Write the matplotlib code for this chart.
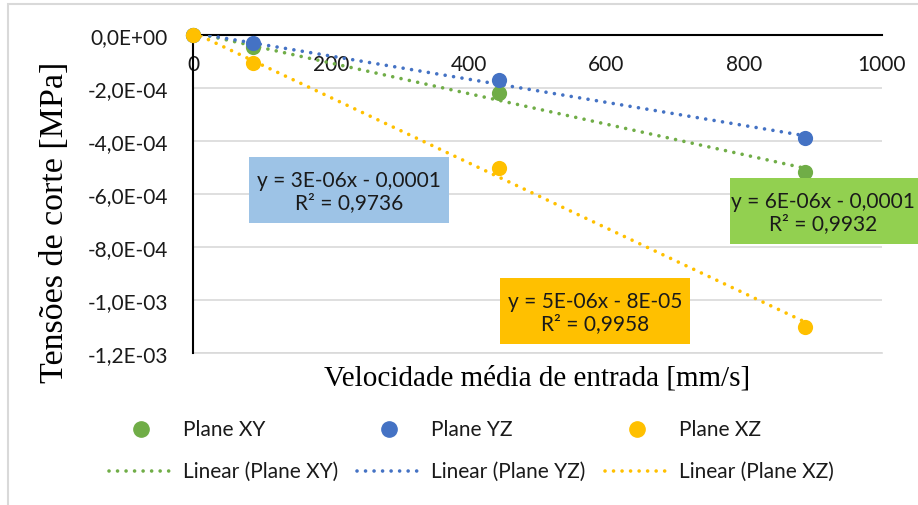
import numpy as np
import matplotlib
matplotlib.use("Agg")
import matplotlib.pyplot as plt
from matplotlib.patches import Rectangle
from matplotlib.lines import Line2D

# Measured data (mean inlet velocity [mm/s] vs shear stress [MPa])
vel_xy = [0, 87, 444, 888]
tau_xy = [0.0, -0.45e-4, -2.19e-4, -5.16e-4]
vel_yz = [0, 87, 444, 888]
tau_yz = [0.0, -0.30e-4, -1.70e-4, -3.88e-4]
vel_xz = [0, 87, 444, 888]
tau_xz = [0.0, -1.06e-4, -5.00e-4, -1.10e-3]

series_names = ["Plane XY", "Plane YZ", "Plane XZ"]
series_colors = ["#70AD47", "#4472C4", "#FFC000"]
box_colors = ["#92D050", "#9DC3E6", "#FFC000"]
eq_labels = ["y = 6E-06x - 0,0001\nR² = 0,9932",
             "y = 3E-06x - 0,0001\nR² = 0,9736",
             "y = 5E-06x - 8E-05\nR² = 0,9958"]

y_ticks = [0.0, -2e-4, -4e-4, -6e-4, -8e-4, -1.0e-3, -1.2e-3]
y_tick_labels = ["0,0E+00", "-2,0E-04", "-4,0E-04", "-6,0E-04",
                 "-8,0E-04", "-1,0E-03", "-1,2E-03"]
x_ticks = [0, 200, 400, 600, 800, 1000]

W, H = 918, 506
fig = plt.figure(figsize=(W / 100, H / 100), dpi=100)
fig.patch.set_facecolor("white")

SANS = ["Lato", "DejaVu Sans"]
FS = 15
TXT = "#1a1a1a"


def fx(px):
    return px / W


def fy(py):
    return 1 - py / H


# chart-area border
fig.patches.append(Rectangle((fx(8), fy(520)), 1.2, fy(5) - fy(520),
                             transform=fig.transFigure, fill=False,
                             edgecolor="#D9D9D9", lw=1.5, zorder=0))

ax = fig.add_axes([fx(193), fy(354), fx(882) - fx(193), fy(36) - fy(354)])
ax.set_xlim(0, 1000)
ax.set_ylim(-1.2e-3, 0)

for s in ["top", "right"]:
    ax.spines[s].set_visible(False)
ax.spines["bottom"].set_position(("data", 0))
ax.spines["bottom"].set_color("black")
ax.spines["bottom"].set_linewidth(1.5)
ax.spines["bottom"].set_zorder(2)
ax.spines["left"].set_color("black")
ax.spines["left"].set_linewidth(1.5)

ax.set_yticks(y_ticks)
ax.set_yticklabels(y_tick_labels)
ax.set_xticks(x_ticks)
ax.set_xticklabels([str(v) for v in x_ticks])
ax.tick_params(axis="both", labelsize=FS, labelcolor=TXT,
               labelfontfamily=SANS, length=0)
ax.tick_params(axis="y", pad=18)
ax.tick_params(axis="x", pad=14)

ax.grid(axis="y", color="#D9D9D9", lw=1.2, zorder=0)
ax.set_axisbelow(True)
ax.axhline(-1.2e-3, color="#D9D9D9", lw=1.2, zorder=0, clip_on=False)

xs = [vel_xy, vel_yz, vel_xz]
ys = [tau_xy, tau_yz, tau_xz]
dot_style = dict(linestyle=(0, (0.01, 2.35)), dash_capstyle="round", lw=2.6)

for x, y, c in zip(xs, ys, series_colors):
    x = np.asarray(x, float)
    y = np.asarray(y, float)
    k, b = np.polyfit(x, y, 1)
    xf = np.array([x.min(), x.max()])
    ax.plot(xf, k * xf + b, color=c, zorder=3, **dot_style)
    ax.scatter(x, y, s=120, color=c, zorder=4, clip_on=False, linewidths=0)

# trendline equation boxes (pixel extents)
boxes = [(730, 179, 930, 245), (249, 158, 449, 224), (500, 279, 690, 345)]
text_cx = [823, 349, 595]
for (x0, y0, x1, y1), bc, txt, cx in zip(boxes, box_colors, eq_labels, text_cx):
    fig.patches.append(Rectangle((fx(x0), fy(y1)), fx(x1) - fx(x0),
                                 fy(y0) - fy(y1), transform=fig.transFigure,
                                 facecolor=bc, edgecolor="none", zorder=5))
    fig.text(fx(cx), fy((y0 + y1) / 2 + 1), txt, ha="center", va="center",
             family=SANS, fontsize=FS, color=TXT,
             linespacing=1.15, zorder=6)

fig.text(fx(537), fy(378), "Velocidade média de entrada [mm/s]",
         ha="center", va="center", family="Liberation Serif", fontsize=21)
fig.text(fx(55), fy(222), "Tensões de corte [MPa]", rotation=90,
         ha="center", va="center", family="Liberation Serif", fontsize=24.5)

# legend: marker row and trendline row, three columns
col_x = [107, 355, 603]
row_marker, row_line = 430, 472
for cx, c, name in zip(col_x, series_colors, series_names):
    fig.lines.append(Line2D([fx(cx + 34)], [fy(row_marker)], marker="o",
                            ls="none", color=c, markersize=11,
                            transform=fig.transFigure))
    fig.text(fx(cx + 76), fy(row_marker), name, ha="left", va="center",
             family=SANS, fontsize=FS, color=TXT)
    fig.lines.append(Line2D([fx(cx + 2), fx(cx + 62)],
                            [fy(row_line), fy(row_line)], color=c,
                            transform=fig.transFigure, **dot_style))
    fig.text(fx(cx + 76), fy(row_line), f"Linear ({name})", ha="left",
             va="center", family=SANS, fontsize=FS, color=TXT)

fig.savefig("out.png", dpi=100, facecolor="white")
